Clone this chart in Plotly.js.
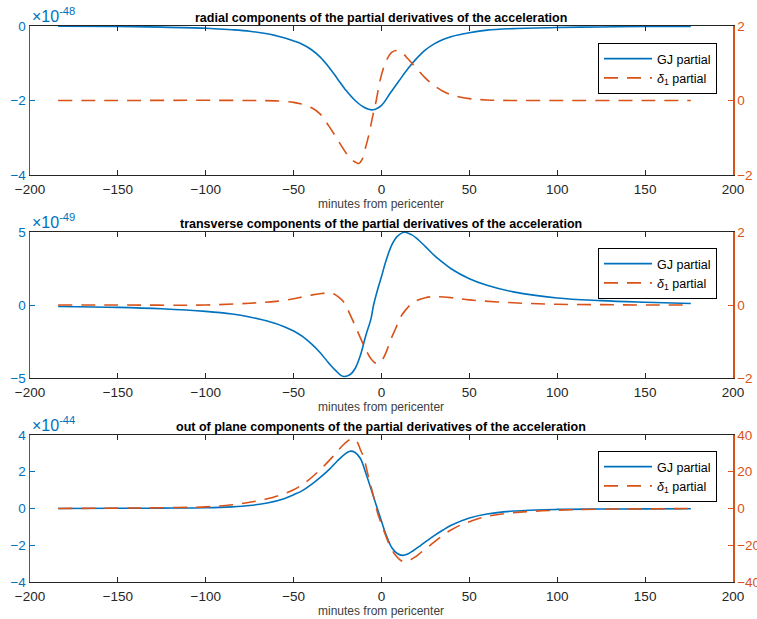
<!DOCTYPE html>
<html>
<head>
<meta charset="utf-8">
<script src="https://cdn.plot.ly/plotly-3.0.1.min.js"></script>
<style>html,body{margin:0;padding:0;background:#fff;}#chart{width:757px;height:619px;}</style>
</head>
<body>
<div id="chart"></div>
<script>
// ---------- data (values in units of the exponent shown on each left axis) ----------
const titles = [
  "radial components of the partial derivatives of the acceleration",
  "transverse components of the partial derivatives of the acceleration",
  "out of plane components of the partial derivatives of the acceleration"
];
const xLabel = "minutes from pericenter";
const exponents = ["-48", "-49", "-44"];
const seriesNames = ["GJ partial", "<i>δ</i><sub>1</sub> partial"];
const xTicks = [-200, -150, -100, -50, 0, 50, 100, 150, 200];

// panel 1: radial
const gjX1 = [-184,-150,-125,-100,-85,-75,-65,-60,-55,-50,-46,-40,-35,-30,-25,-20,-15,-10,-5,0,5,10,15,20,25,30,35,40,50,60,75,100,125,150,176];
const gjY1 = [-0.005,-0.015,-0.03,-0.06,-0.1,-0.14,-0.21,-0.26,-0.32,-0.4,-0.47,-0.63,-0.83,-1.1,-1.42,-1.74,-2.0,-2.18,-2.25,-2.13,-1.8,-1.47,-1.15,-0.87,-0.64,-0.48,-0.36,-0.28,-0.18,-0.11,-0.07,-0.04,-0.025,-0.015,-0.01];
const d1X1 = [-184,-150,-100,-75,-60,-50,-46,-40,-35,-30,-25,-20,-17,-15,-13,-11,-9,-7,-5,-3,-1,1,3,6,9,12,15,20,25,30,35,40,50,60,75,100,150,176];
const d1Y1 = [0,0,0.005,0,-0.01,-0.05,-0.09,-0.19,-0.36,-0.68,-1.05,-1.42,-1.58,-1.65,-1.69,-1.58,-1.25,-0.88,-0.42,0.0,0.5,0.85,1.1,1.3,1.34,1.27,1.12,0.86,0.6,0.4,0.25,0.15,0.05,0.015,0,0,0,0];

// panel 2: transverse
const gjX2 = [-184,-150,-125,-100,-85,-75,-65,-55,-50,-45,-40,-35,-30,-26,-22,-18,-15,-12,-9,-6,-4.5,-2,0,3,6,9,13,17,20,25,30,35,40,50,60,75,100,125,150,176];
const gjY2 = [-0.1,-0.16,-0.26,-0.44,-0.62,-0.82,-1.1,-1.5,-1.78,-2.15,-2.65,-3.25,-3.98,-4.5,-4.88,-4.78,-4.35,-3.45,-2.12,-0.95,0,1.15,1.95,3.2,4.15,4.7,4.98,4.82,4.57,4.0,3.4,2.9,2.45,1.8,1.35,0.9,0.48,0.3,0.19,0.1];
const d1X2 = [-184,-150,-100,-75,-60,-50,-45,-40,-35,-30,-27,-24,-21,-18,-15,-12,-9,-6,-3,-1,1,3,5,8,11,14,17,20,25,30,40,50,75,100,125,150,176];
const d1Y2 = [0,0,0,0.05,0.1,0.17,0.22,0.27,0.31,0.33,0.3,0.2,0.05,-0.25,-0.57,-0.9,-1.22,-1.47,-1.6,-1.58,-1.46,-1.25,-0.98,-0.65,-0.32,-0.12,0.03,0.12,0.2,0.23,0.2,0.14,0.06,0.02,0.01,0,0];

// panel 3: out of plane
const gjX3 = [-184,-150,-125,-100,-85,-75,-65,-55,-50,-46,-40,-35,-30,-25,-21,-18,-15,-12,-9,-6,-3,0,3,6,9,12,15,18,22,26,30,35,40,50,60,75,100,125,150,176];
const gjY3 = [0,0.01,0.02,0.04,0.09,0.16,0.3,0.55,0.75,0.92,1.3,1.68,2.1,2.6,2.95,3.12,3.05,2.72,1.95,1.08,0.18,-0.7,-1.53,-2.15,-2.45,-2.55,-2.47,-2.3,-2.03,-1.75,-1.48,-1.17,-0.9,-0.52,-0.3,-0.14,-0.05,-0.03,-0.02,-0.01];
const d1X3 = [-184,-150,-125,-100,-85,-75,-65,-55,-50,-43,-35,-27,-22,-18,-16,-14,-12,-10,-8,-6,-4,-2,0,2,5,8,11,13,16,19,23,28,33,39,45,50,60,75,100,125,150,176];
const d1Y3 = [0,0.2,0.4,0.9,2.0,3.4,5.3,8.2,10.2,14.4,21,29,34.4,37.5,37.8,36.4,32,27.5,19.5,12,4.5,-3.2,-8.5,-13.7,-20.8,-25.5,-28.3,-29,-28.2,-26.5,-23.5,-19.8,-16,-12,-9,-7.2,-4.3,-2.3,-0.9,-0.4,-0.2,0];

const leftTicks = [[0,-2,-4],[5,0,-5],[4,2,0,-2,-4]];
const leftRanges = [[-4,0],[-5,5],[-4,4]];
const rightTicks = [[2,0,-2],[2,0,-2],[40,20,0,-20,-40]];
const rightRanges = [[-2,2],[-2,2],[-40,40]];

// ---------- layout helpers ----------
const W = 757, H = 619;
const BLUE = '#0072BD', ORANGE = '#D95319', DARK = '#262626';
const FONT = 'Liberation Sans, Arial, Helvetica, sans-serif';
const xDom = [30 / W, 733 / W];
const panelPx = [[26, 175], [232, 378], [435, 582]]; // top, bottom pixel
const titleY = [18.5, 223.5, 427];
const labelY = [204, 407, 611];
const legendTop = [43, 248, 451];
const py = p => 1 - p / H;

const gjX = [gjX1, gjX2, gjX3], gjY = [gjY1, gjY2, gjY3];
const d1X = [d1X1, d1X2, d1X3], d1Y = [d1Y1, d1Y2, d1Y3];

const traces = [];
const layout = {
  width: W, height: H,
  margin: {l: 0, r: 0, t: 0, b: 0},
  paper_bgcolor: '#fff', plot_bgcolor: '#fff',
  font: {family: FONT, size: 13, color: DARK},
  showlegend: true,
  annotations: []
};

for (let i = 0; i < 3; i++) {
  const n = i + 1;
  const xa = n === 1 ? 'x' : 'x' + n;
  const yl = 'y' + (2 * i + 1 === 1 ? '' : (2 * i + 1));
  const yr = 'y' + (2 * i + 2);
  const legName = n === 1 ? 'legend' : 'legend' + n;

  traces.push({
    x: gjX[i], y: gjY[i], xaxis: xa, yaxis: yl,
    type: 'scatter', mode: 'lines', name: seriesNames[0],
    line: {color: BLUE, width: 1.6, shape: 'spline', smoothing: 1},
    legend: legName
  });
  traces.push({
    x: d1X[i], y: d1Y[i], xaxis: xa, yaxis: yr,
    type: 'scatter', mode: 'lines', name: seriesNames[1],
    line: {color: ORANGE, width: 1.6, dash: '14px,9px', shape: 'spline', smoothing: 1},
    legend: legName
  });

  const [pt, pb] = panelPx[i];
  const yDom = [py(pb), py(pt)];
  const xKey = n === 1 ? 'xaxis' : 'xaxis' + n;
  const ylKey = 'yaxis' + (2 * i + 1 === 1 ? '' : (2 * i + 1));
  const yrKey = 'yaxis' + (2 * i + 2);

  layout[xKey] = {
    domain: xDom, anchor: yl, range: [-200, 200],
    tickvals: xTicks, ticks: 'inside', ticklen: 5, tickcolor: DARK, tickwidth: 1,
    ticklabelstandoff: 2,
    showline: true, linecolor: DARK, linewidth: 1, mirror: 'ticks',
    showgrid: false, zeroline: false,
    tickfont: {family: FONT, size: 13.5, color: DARK}
  };
  layout[ylKey] = {
    domain: yDom, anchor: xa, range: leftRanges[i],
    tickvals: leftTicks[i], ticks: 'inside', ticklen: 5, tickcolor: BLUE, tickwidth: 1,
    showline: true, linecolor: BLUE, linewidth: 1.5,
    showgrid: false, zeroline: false,
    tickfont: {family: FONT, size: 13.5, color: BLUE}
  };
  layout[yrKey] = {
    domain: yDom, anchor: xa, overlaying: yl, side: 'right', range: rightRanges[i],
    tickvals: rightTicks[i], ticks: 'inside', ticklen: 5, tickcolor: ORANGE, tickwidth: 1,
    showline: true, linecolor: ORANGE, linewidth: 1.5,
    showgrid: false, zeroline: false,
    tickfont: {family: FONT, size: 13.5, color: ORANGE}
  };

  layout[legName] = {
    x: 717 / W, xanchor: 'right', xref: 'paper',
    y: py(legendTop[i]), yanchor: 'top', yref: 'paper',
    bgcolor: '#fff', bordercolor: '#000', borderwidth: 1,
    font: {family: FONT, size: 12.5, color: '#000'},
    itemwidth: 48, tracegroupgap: 0
  };

  layout.annotations.push({
    text: '<b>' + titles[i] + '</b>', xref: 'paper', yref: 'paper',
    x: 381 / W, y: py(titleY[i]), xanchor: 'center', yanchor: 'middle',
    showarrow: false, font: {family: FONT, size: 12.5, color: '#000'}
  });
  layout.annotations.push({
    text: xLabel, xref: 'paper', yref: 'paper',
    x: 381 / W, y: py(labelY[i]), xanchor: 'center', yanchor: 'middle',
    showarrow: false, font: {family: FONT, size: 12, color: '#404040'}
  });
  layout.annotations.push({
    text: '×10<sup>' + exponents[i] + '</sup>', xref: 'paper', yref: 'paper',
    x: 30 / W, y: py(pt + 1), xanchor: 'left', yanchor: 'bottom',
    showarrow: false, font: {family: FONT, size: 16, color: BLUE}
  });
}

Plotly.newPlot('chart', traces, layout, {displayModeBar: false, staticPlot: true});
</script>
</body>
</html>
